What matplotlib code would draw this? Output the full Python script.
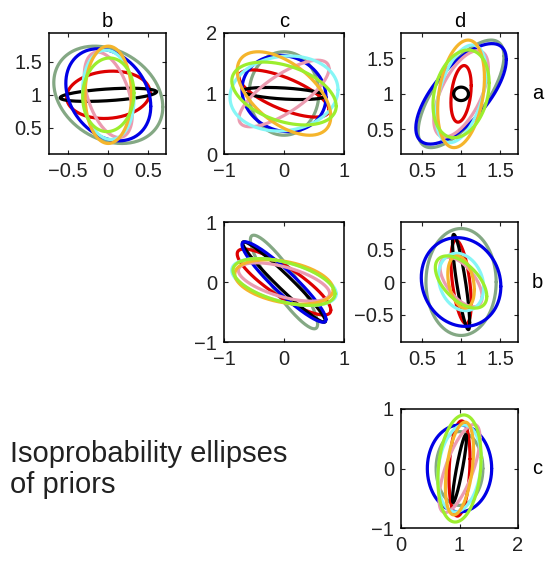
import matplotlib
import matplotlib.pyplot as plt
import numpy as np

matplotlib.use("Agg")  # headless

plt.rcParams["font.family"] = ["Liberation Sans", "DejaVu Sans"]

# prior means of the four parameters
MEANS = {"a": 1.0, "b": 0.0, "c": 0.0, "d": 1.0}

# one ellipse per prior, in this colour order
COLORS = ["#000000", "#dd0000", "#0000e6", "#84a884",
          "#eb9bb0", "#86f6f6", "#f5b52c", "#9cee2e"]
DRAW_ORDER = [3, 1, 0, 2, 4, 5, 6, 7]

# half-extents along x / y and correlation of each ellipse, per panel (row, col)
HX_AB = [0.60, 0.52, 0.53, 0.68, 0.30, 0.32, 0.29, 0.32]
HY_AB = [0.10, 0.36, 0.70, 0.74, 0.65, 0.68, 0.74, 0.56]
RHO_AB = [0.45, 0.10, -0.25, -0.25, -0.45, -0.10, 0.00, 0.05]

HX_AC = [0.69, 0.75, 0.70, 0.58, 0.75, 0.90, 0.78, 0.87]
HY_AC = [0.10, 0.39, 0.63, 0.69, 0.55, 0.62, 0.69, 0.52]
RHO_AC = [-0.40, -0.70, -0.10, 0.00, 0.75, 0.10, -0.55, -0.40]

HX_AD = [0.095, 0.13, 0.58, 0.55, 0.35, 0.32, 0.30, 0.36]
HY_AD = [0.095, 0.40, 0.71, 0.76, 0.61, 0.69, 0.76, 0.62]
RHO_AD = [0.00, 0.30, 0.68, 0.70, 0.60, 0.45, 0.30, 0.25]

HX_BC = [0.69, 0.78, 0.70, 0.56, 0.76, 0.87, 0.82, 0.85]
HY_BC = [0.67, 0.55, 0.67, 0.78, 0.32, 0.39, 0.37, 0.39]
RHO_BC = [-0.97, -0.85, -0.93, -0.90, -0.60, -0.50, -0.35, -0.50]

HX_BD = [0.11, 0.13, 0.51, 0.45, 0.27, 0.29, 0.17, 0.33]
HY_BD = [0.73, 0.64, 0.68, 0.82, 0.38, 0.44, 0.40, 0.40]
RHO_BD = [-0.85, -0.50, -0.10, 0.00, -0.60, -0.20, -0.30, -0.55]

HX_CD = [0.12, 0.18, 0.55, 0.40, 0.35, 0.37, 0.24, 0.37]
HY_CD = [0.57, 0.80, 0.73, 0.62, 0.74, 0.73, 0.78, 0.90]
RHO_CD = [0.90, 0.20, 0.00, 0.00, 0.70, 0.20, 0.40, 0.20]

PANELS = [
    # row, col, grid pos, hx, hy, rho, xlim, ylim, xticks, yticks
    ("a", "b", (0, 0), HX_AB, HY_AB, RHO_AB, (-0.74, 0.72), (0.10, 1.94), [-0.5, 0, 0.5], [0.5, 1, 1.5]),
    ("a", "c", (0, 1), HX_AC, HY_AC, RHO_AC, (-1, 1), (0, 2), [-1, 0, 1], [0, 1, 2]),
    ("a", "d", (0, 2), HX_AD, HY_AD, RHO_AD, (0.23, 1.73), (0.15, 1.86), [0.5, 1, 1.5], [0.5, 1, 1.5]),
    ("b", "c", (1, 1), HX_BC, HY_BC, RHO_BC, (-1, 1), (-1, 1), [-1, 0, 1], [-1, 0, 1]),
    ("b", "d", (1, 2), HX_BD, HY_BD, RHO_BD, (0.23, 1.73), (-0.92, 0.92), [0.5, 1, 1.5], [-0.5, 0, 0.5]),
    ("c", "d", (2, 2), HX_CD, HY_CD, RHO_CD, (0, 2), (-1, 1), [0, 1, 2], [-1, 0, 1]),
]

W, H = 545, 562
COL_X = [49, 224, 401]     # left edge of each column, px
COL_W = [117, 120, 117]
ROW_Y = [33, 222, 409]     # top edge of each row, px
ROW_H = [121, 120, 119]


def ellipse(cx, cy, hx, hy, rho, n=240):
    t = np.linspace(0, 2 * np.pi, n)
    x = cx + hx * np.cos(t)
    y = cy + hy * (rho * np.cos(t) + np.sqrt(1 - rho ** 2) * np.sin(t))
    return x, y


def fmt(v):
    s = f"{v:g}"
    return s.replace("-", "\u2212")


fig = plt.figure(figsize=(W / 100, H / 100), dpi=100)

for row, col, (r, c), hx, hy, rho, xlim, ylim, xt, yt in PANELS:
    rect = [COL_X[c] / W, 1 - (ROW_Y[r] + ROW_H[r]) / H, COL_W[c] / W, ROW_H[r] / H]
    ax = fig.add_axes(rect)
    for k in DRAW_ORDER:
        x, y = ellipse(MEANS[col], MEANS[row], hx[k], hy[k], rho[k])
        ax.plot(x, y, color=COLORS[k], lw=2.3, solid_capstyle="round")
    ax.set_xlim(*xlim)
    ax.set_ylim(*ylim)
    ax.set_xticks(xt)
    ax.set_yticks(yt)
    ax.set_xticklabels([fmt(v) for v in xt])
    ax.set_yticklabels([fmt(v) for v in yt])
    ax.tick_params(direction="in", top=True, right=True, length=3, width=0.8,
                   labelsize=14.5, colors="#222222")
    ax.tick_params(axis="x", pad=6)
    ax.tick_params(axis="y", pad=5)
    for sp in ax.spines.values():
        sp.set_linewidth(1.1)
    if r == 0:
        ax.set_title(col, fontsize=14.5, pad=4)
    if c == 2:
        fig.text(532 / W, 1 - (ROW_Y[r] + ROW_H[r] / 2) / H, row,
                 fontsize=14.5, ha="left", va="center")

fig.text(10 / W, 1 - 440 / H, "Isoprobability ellipses\nof priors",
         fontsize=21, ha="left", va="top", linespacing=1.15, color="#222222")

fig.savefig("out.png", dpi=100)
plt.close(fig)
